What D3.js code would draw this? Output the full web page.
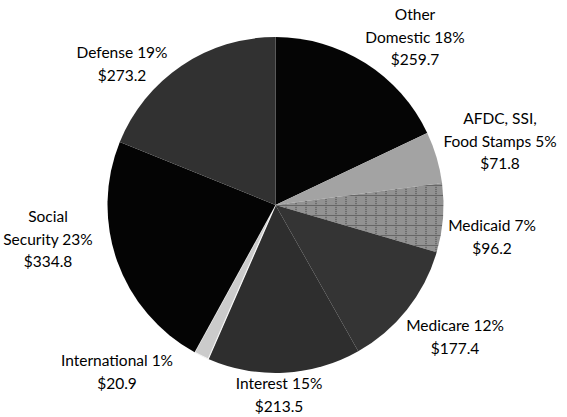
<!DOCTYPE html>
<html>
<head>
<meta charset="utf-8">
<script src="https://cdn.jsdelivr.net/npm/d3@7"></script>
<style>
  html, body { margin: 0; padding: 0; background: #fff; }
  svg { display: block; }
  text { font-family: Lato, "Open Sans", sans-serif; fill: #000; }
</style>
</head>
<body>
<svg id="chart" width="567" height="417"></svg>
<script>
// Federal outlays by category, billions of dollars
const categories = ["Other Domestic", "AFDC, SSI, Food Stamps", "Medicaid", "Medicare",
                    "Interest", "International", "Social Security", "Defense"];
const labelLines = [["Other", "Domestic"], ["AFDC, SSI,", "Food Stamps"], ["Medicaid"], ["Medicare"],
                    ["Interest"], ["International"], ["Social", "Security"], ["Defense"]];
const outlays = [259.7, 71.8, 96.2, 177.4, 213.5, 20.9, 334.8, 273.2];

// Halftone-style screens for each slice: base tone, dot tone, optional grid
const screens = [
  { base: "#050505", dot: "#050505" },
  { base: "#7e7e7e", dot: "#c8c8c8" },
  { base: "#737373", dot: "#b0b0b0", grid: "#666666" },
  { base: "#1a1a1a", dot: "#4e4e4e" },
  { base: "#141414", dot: "#484848" },
  { base: "#b0b0b0", dot: "#e6e6e6" },
  { base: "#040404", dot: "#040404" },
  { base: "#161616", dot: "#4c4c4c" }
];

// Label block centres (x, y of first line)
const labelAnchor = [[415, 15], [500, 119], [492, 226], [455, 326], [279, 384], [117, 361], [48, 217], [122, 53]];

const width = 567, height = 417;
const cx = 275.5, cy = 205, radius = 168;
const lineHeight = 22.5;

const svg = d3.select("#chart");
const defs = svg.append("defs");
const total = d3.sum(outlays);

// Build one pattern per slice
screens.forEach((s, i) => {
  const size = s.grid ? 10 : 2;
  const p = defs.append("pattern")
    .attr("id", "screen" + i)
    .attr("patternUnits", "userSpaceOnUse")
    .attr("width", size).attr("height", size);
  p.append("rect").attr("width", size).attr("height", size).attr("fill", s.base);
  for (let y = 0; y < size; y++) {
    for (let x = 0; x < size; x++) {
      if ((x + y) % 2 === 0) {
        p.append("rect").attr("x", x).attr("y", y).attr("width", 1).attr("height", 1).attr("fill", s.dot);
      }
    }
  }
  if (s.grid) {
    p.append("rect").attr("x", 0).attr("y", 0).attr("width", size).attr("height", 1).attr("fill", s.grid);
    p.append("rect").attr("x", 0).attr("y", 0).attr("width", 1).attr("height", size).attr("fill", s.grid);
  }
});

const data = categories.map((c, i) => ({ name: c, value: outlays[i], index: i }));

const pie = d3.pie().sort(null).value(d => d.value).startAngle(0).endAngle(2 * Math.PI);
const arc = d3.arc().innerRadius(0).outerRadius(radius);

const g = svg.append("g").attr("transform", `translate(${cx},${cy})`);

g.selectAll("path.slice")
  .data(pie(data))
  .join("path")
  .attr("class", "slice")
  .attr("d", arc)
  .attr("fill", d => `url(#screen${d.data.index})`)
  .attr("stroke", d => d.data.name === "International" ? "#f4f4f4" : "none")
  .attr("stroke-width", 1.2);

// Labels: name lines, percentage on the last name line, dollar amount below
const labels = svg.selectAll("g.label")
  .data(data)
  .join("g")
  .attr("class", "label")
  .attr("transform", d => `translate(${labelAnchor[d.index][0]},${labelAnchor[d.index][1]})`);

labels.each(function (d) {
  const lines = labelLines[d.index].slice();
  const pct = Math.round(d.value / total * 100);
  lines[lines.length - 1] += " " + pct + "%";
  lines.push("$" + d3.format(".1f")(d.value));
  const t = d3.select(this).append("text")
    .attr("text-anchor", "middle")
    .attr("font-size", 15.5);
  lines.forEach((s, k) => {
    t.append("tspan").attr("x", 0).attr("y", k * lineHeight).attr("dy", "0.35em").text(s);
  });
});
</script>
</body>
</html>
